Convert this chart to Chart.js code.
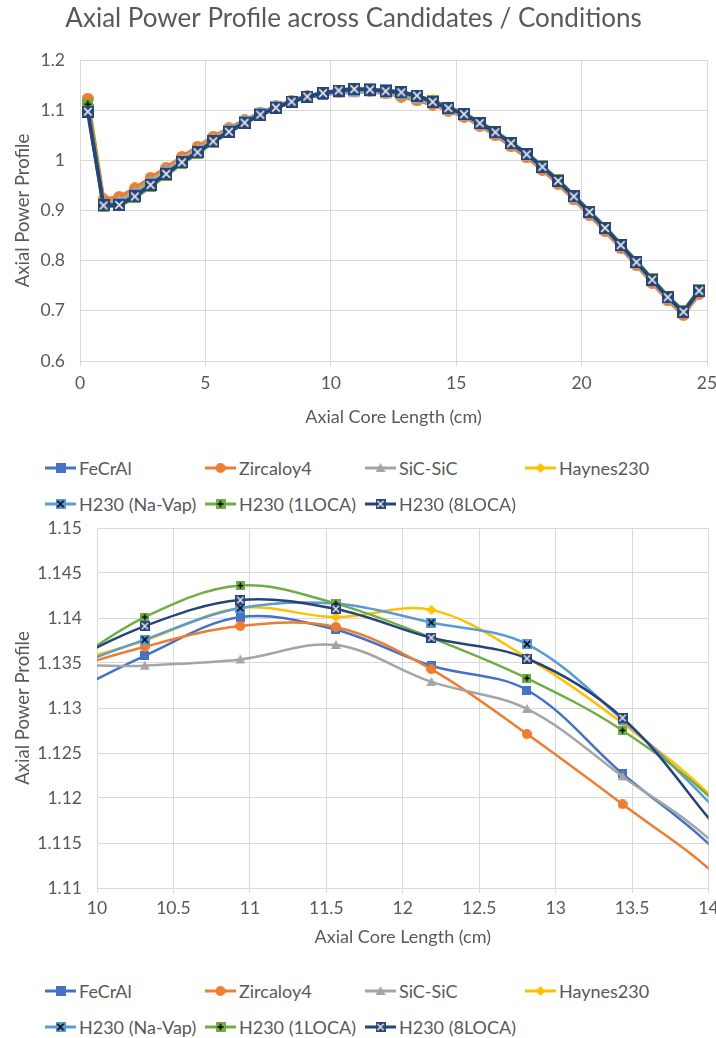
<!DOCTYPE html>
<html>
<head>
<meta charset="utf-8">
<script src="https://cdn.jsdelivr.net/npm/chart.js@4.4.1/dist/chart.umd.min.js"></script>
<style>
  body { margin: 0; background: #fff; width: 716px; height: 1038px; position: relative; overflow: hidden; font-family: Lato, sans-serif; }
  .wrap { position: absolute; left: 0; width: 716px; height: 440px; }
  #top-wrap { top: 0; }
  #zoom-wrap { top: 510px; }
  .legend { position: absolute; left: 0; top: 0; width: 716px; height: 0; color: #595959; font-size: 18px; }
  .legend .item { position: absolute; display: flex; align-items: center; white-space: nowrap; height: 22px; }
  .legend canvas { display: block; margin-right: 3px; }
</style>
</head>
<body>
<div class="wrap" id="top-wrap"><canvas id="chart-top"></canvas></div>
<div class="legend" id="legend-top"></div>
<div class="wrap" id="zoom-wrap"><canvas id="chart-zoom"></canvas></div>
<div class="legend" id="legend-zoom"></div>

<script>
// axial positions of the nodes (cm)
const xPos = [0.3125, 0.9375, 1.5625, 2.1875, 2.8125, 3.4375, 4.0625, 4.6875, 5.3125, 5.9375,
  6.5625, 7.1875, 7.8125, 8.4375, 9.0625, 9.6875, 10.3125, 10.9375, 11.5625, 12.1875,
  12.8125, 13.4375, 14.0625, 14.6875, 15.3125, 15.9375, 16.5625, 17.1875, 17.8125, 18.4375,
  19.0625, 19.6875, 20.3125, 20.9375, 21.5625, 22.1875, 22.8125, 23.4375, 24.0625, 24.6875];

const feCrAl = [1.110, 0.914, 0.917, 0.934, 0.957, 0.978, 1.001, 1.021, 1.042, 1.061,
  1.078, 1.094, 1.107, 1.118, 1.126, 1.1306, 1.1358, 1.1401, 1.1387, 1.1347,
  1.1320, 1.1227, 1.1139, 1.101, 1.089, 1.072, 1.053, 1.032, 1.009, 0.985,
  0.957, 0.926, 0.895, 0.863, 0.829, 0.795, 0.760, 0.725, 0.696, 0.738];

const zircaloy4 = [1.123, 0.922, 0.927, 0.944, 0.965, 0.985, 1.007, 1.027, 1.047, 1.064,
  1.080, 1.095, 1.108, 1.119, 1.128, 1.1334, 1.1368, 1.1391, 1.1390, 1.1343,
  1.1271, 1.1193, 1.1112, 1.099, 1.087, 1.069, 1.050, 1.028, 1.006, 0.981,
  0.953, 0.922, 0.891, 0.859, 0.825, 0.791, 0.756, 0.721, 0.692, 0.734];

const sicSic = [1.108, 0.916, 0.920, 0.937, 0.959, 0.980, 1.003, 1.023, 1.044, 1.062,
  1.079, 1.094, 1.107, 1.119, 1.128, 1.1341, 1.1347, 1.1354, 1.1370, 1.1329,
  1.1299, 1.1224, 1.1145, 1.101, 1.089, 1.071, 1.053, 1.031, 1.009, 0.984,
  0.956, 0.925, 0.894, 0.862, 0.828, 0.794, 0.759, 0.724, 0.695, 0.737];

const haynes230 = [1.104, 0.912, 0.914, 0.931, 0.953, 0.975, 0.998, 1.018, 1.040, 1.058,
  1.076, 1.092, 1.106, 1.118, 1.127, 1.1339, 1.1375, 1.1411, 1.1401, 1.1409,
  1.1356, 1.1283, 1.1194, 1.106, 1.093, 1.075, 1.057, 1.035, 1.013, 0.988,
  0.960, 0.929, 0.898, 0.866, 0.832, 0.798, 0.763, 0.728, 0.699, 0.741];

const h230NaVap = [1.101, 0.911, 0.913, 0.930, 0.952, 0.974, 0.997, 1.017, 1.039, 1.058,
  1.076, 1.092, 1.106, 1.117, 1.127, 1.1334, 1.1376, 1.1411, 1.1416, 1.1395,
  1.1371, 1.1287, 1.1184, 1.105, 1.093, 1.075, 1.057, 1.035, 1.013, 0.988,
  0.960, 0.929, 0.898, 0.866, 0.832, 0.798, 0.763, 0.728, 0.699, 0.741];

const h230Loca1 = [1.112, 0.908, 0.909, 0.925, 0.948, 0.970, 0.994, 1.014, 1.036, 1.056,
  1.074, 1.090, 1.104, 1.117, 1.128, 1.1335, 1.1401, 1.1436, 1.1416, 1.1378,
  1.1333, 1.1275, 1.1192, 1.106, 1.094, 1.076, 1.058, 1.036, 1.014, 0.989,
  0.961, 0.930, 0.899, 0.867, 0.833, 0.799, 0.764, 0.729, 0.700, 0.742];

const h230Loca8 = [1.097, 0.910, 0.911, 0.928, 0.951, 0.973, 0.996, 1.016, 1.038, 1.057,
  1.075, 1.091, 1.105, 1.117, 1.127, 1.1339, 1.1391, 1.1420, 1.1410, 1.1378,
  1.1355, 1.1289, 1.1165, 1.104, 1.092, 1.074, 1.056, 1.034, 1.012, 0.987,
  0.959, 0.928, 0.897, 0.865, 0.831, 0.797, 0.762, 0.727, 0.698, 0.740];

const seriesNames = ['FeCrAl', 'Zircaloy4', 'SiC-SiC', 'Haynes230', 'H230 (Na-Vap)', 'H230 (1LOCA)', 'H230 (8LOCA)'];
const seriesData = [feCrAl, zircaloy4, sicSic, haynes230, h230NaVap, h230Loca1, h230Loca8];

const xTicksTop = [0, 5, 10, 15, 20, 25];
const yTicksTop = [0.6, 0.7, 0.8, 0.9, 1, 1.1, 1.2];
const xTicksZoom = [10, 10.5, 11, 11.5, 12, 12.5, 13, 13.5, 14];
const yTicksZoom = [1.11, 1.115, 1.12, 1.125, 1.13, 1.135, 1.14, 1.145, 1.15];

// look of each series (Excel office palette)
const seriesStyle = [
  { color: '#4472C4', marker: 'square' },
  { color: '#ED7D31', marker: 'circle' },
  { color: '#A5A5A5', marker: 'triangle' },
  { color: '#FFC000', marker: 'diamond' },
  { color: '#5B9BD5', marker: 'xbox', sym: '#000000' },
  { color: '#70AD47', marker: 'plusbox', sym: '#000000' },
  { color: '#264478', marker: 'xbox', sym: '#E7E6E6' }
];

const TEXT = '#595959';
const GRID = '#D9D9D9';
Chart.defaults.font.family = 'Lato, sans-serif';
Chart.defaults.color = TEXT;

// small canvas used as point style
function makeMarker(st, size) {
  const c = document.createElement('canvas');
  c.width = c.height = size;
  const g = c.getContext('2d');
  const h = size / 2;
  g.fillStyle = st.color;
  if (st.marker === 'circle') {
    g.beginPath(); g.arc(h, h, h, 0, Math.PI * 2); g.fill();
  } else if (st.marker === 'triangle') {
    g.beginPath(); g.moveTo(h, 0); g.lineTo(size, size * 0.9); g.lineTo(0, size * 0.9); g.closePath(); g.fill();
  } else if (st.marker === 'diamond') {
    g.beginPath(); g.moveTo(h, 0); g.lineTo(size, h); g.lineTo(h, size); g.lineTo(0, h); g.closePath(); g.fill();
  } else {
    g.fillRect(0, 0, size, size);
    if (st.sym) {
      const p = size * 0.18;
      g.strokeStyle = st.sym;
      g.lineWidth = Math.max(1.5, size / 7);
      g.beginPath();
      if (st.marker === 'xbox') {
        g.moveTo(p, p); g.lineTo(size - p, size - p);
        g.moveTo(size - p, p); g.lineTo(p, size - p);
      } else {
        g.moveTo(h, p); g.lineTo(h, size - p);
        g.moveTo(p, h); g.lineTo(size - p, h);
      }
      g.stroke();
    }
  }
  return c;
}

function makeDatasets(sizes, lineWidth, tension) {
  return seriesData.map((arr, k) => ({
    label: seriesNames[k],
    data: xPos.map((x, i) => ({ x: x, y: arr[i] })),
    borderColor: seriesStyle[k].color,
    backgroundColor: seriesStyle[k].color,
    borderWidth: lineWidth,
    pointStyle: makeMarker(seriesStyle[k], sizes[k]),
    pointRadius: 5,
    tension: tension,
    order: 6 - k
  }));
}

function makeOptions(cfg) {
  return {
    responsive: true,
    maintainAspectRatio: false,
    animation: false,
    events: [],
    layout: { padding: cfg.padding },
    elements: { line: { capBezierPoints: false } },
    plugins: {
      legend: { display: false },
      tooltip: { enabled: false },
      title: cfg.title
    },
    scales: {
      x: {
        type: 'linear', min: cfg.xMin, max: cfg.xMax,
        afterBuildTicks: s => { s.ticks = cfg.xTicks.map(v => ({ value: v })); },
        ticks: { font: { size: 17.5 }, padding: cfg.xTickPad, maxRotation: 0, autoSkip: false, callback: v => String(v) },
        grid: { color: GRID, tickLength: 5 },
        border: { color: GRID },
        title: { display: true, text: 'Axial Core Length (cm)', font: { size: 18 }, padding: { top: 0, bottom: cfg.xTitlePad } },
        afterFit: s => { s.height = cfg.xHeight; s.paddingLeft = 0; s.paddingRight = 0; }
      },
      y: {
        type: 'linear', min: cfg.yMin, max: cfg.yMax,
        afterBuildTicks: s => { s.ticks = cfg.yTicks.map(v => ({ value: v })); },
        ticks: { font: { size: 17.5 }, padding: 15, autoSkip: false, callback: v => String(v) },
        grid: { color: GRID, drawTicks: false },
        border: { color: GRID },
        title: { display: true, text: 'Axial Power Profile', font: { size: 18.5 }, padding: { top: 12, bottom: 0 } },
        afterFit: s => { s.width = cfg.yWidth; s.paddingTop = 0; s.paddingBottom = 0; }
      }
    }
  };
}

// full core profile
new Chart(document.getElementById('chart-top'), {
  type: 'line',
  data: { datasets: makeDatasets([10, 12, 12, 12, 12, 11, 12], 3.8, 0) },
  options: makeOptions({
    padding: { top: 0, left: 0, right: 9, bottom: 0 },
    title: {
      display: true, text: 'Axial Power Profile across Candidates / Conditions',
      color: TEXT, font: { size: 26, weight: 'normal' }, padding: { top: 3, bottom: 25.8 }
    },
    xMin: 0, xMax: 25, xTicks: xTicksTop, xTickPad: 7, xTitlePad: 12, xHeight: 79,
    yMin: 0.6, yMax: 1.2, yTicks: yTicksTop, yWidth: 80
  })
});

// close-up around the peak
new Chart(document.getElementById('chart-zoom'), {
  type: 'line',
  data: { datasets: makeDatasets([9, 10, 10, 10, 10, 9, 10], 2.5, 0.35) },
  options: makeOptions({
    padding: { top: 18, left: 0, right: 5, bottom: 0 },
    title: { display: false },
    xMin: 10, xMax: 14, xTicks: xTicksZoom, xTickPad: 5, xTitlePad: 2, xHeight: 62,
    yMin: 1.11, yMax: 1.15, yTicks: yTicksZoom, yWidth: 97
  })
});

// Excel-like legend with fixed columns
function buildLegend(id, rowsY) {
  const el = document.getElementById(id);
  const colX = [45, 205, 365, 525];
  seriesNames.forEach((name, k) => {
    const row = Math.floor(k / 4), col = k % 4;
    const item = document.createElement('div');
    item.className = 'item';
    item.style.left = colX[col] + 'px';
    item.style.top = (rowsY[row] - 11) + 'px';
    const c = document.createElement('canvas');
    c.width = 31; c.height = 14;
    const g = c.getContext('2d');
    g.strokeStyle = seriesStyle[k].color;
    g.lineWidth = 3;
    g.beginPath(); g.moveTo(0, 7); g.lineTo(31, 7); g.stroke();
    g.drawImage(makeMarker(seriesStyle[k], 10), 10.5, 2);
    item.appendChild(c);
    const span = document.createElement('span');
    span.textContent = name;
    item.appendChild(span);
    el.appendChild(item);
  });
}
buildLegend('legend-top', [468, 504]);
buildLegend('legend-zoom', [991, 1027]);
</script>
</body>
</html>
